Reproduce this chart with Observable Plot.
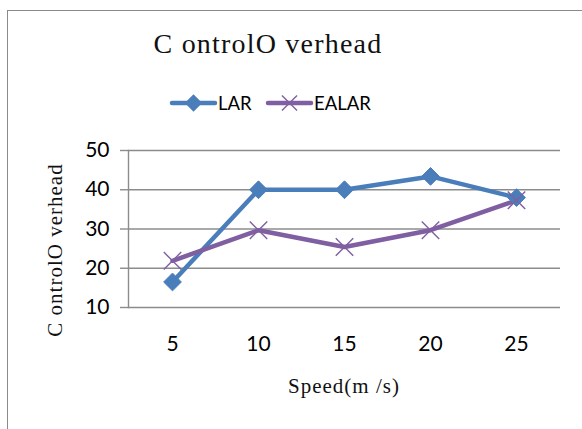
<!DOCTYPE html>
<html><head><meta charset="utf-8">
<script src="https://cdn.jsdelivr.net/npm/d3@7"></script>
<script src="https://cdn.jsdelivr.net/npm/@observablehq/plot@0.6"></script>
<style>
body{margin:0;background:#fff;}
#wrap{position:relative;width:582px;height:429px;overflow:hidden;background:#fff;}
#border{position:absolute;left:7px;top:10px;width:600px;height:450px;border:1.5px solid #8a8a8a;box-sizing:border-box;}
#chart{position:absolute;left:0;top:0;}
.t{position:absolute;white-space:nowrap;color:#000;}
#title{left:0;width:536px;text-align:center;top:28px;font:28px "Liberation Serif";letter-spacing:1.2px;color:#111;}
#xlab{left:0;width:688px;text-align:center;top:374px;font:21px "Liberation Serif";letter-spacing:1px;color:#111;}
#ylab{left:55px;top:250px;font:21px "Liberation Serif";letter-spacing:1px;color:#111;transform:translate(-50%,-50%) rotate(-90deg);}
#legend{position:absolute;left:0;top:89px;}
</style></head>
<body><div id="wrap"><div id="border"></div><div id="chart"></div>
<div class="t" id="title">C ontrolO verhead</div>
<div class="t" id="xlab">Speed(m /s)</div>
<div class="t" id="ylab">C ontrolO verhead</div>
<svg id="legend" width="582" height="30"></svg>
</div>
<script>
const speeds = [5, 10, 15, 20, 25];
const lar = [16.5, 40, 40, 43.4, 38];
const ealar = [21.9, 29.7, 25.4, 29.7, 37.3];
const yTicks = [10, 20, 30, 40, 50];
const seriesNames = ["LAR", "EALAR"];
const colors = ["#4a7ebb", "#7f5fa1"];

const larData = speeds.map((s, i) => ({speed: s, value: lar[i]}));
const ealarData = speeds.map((s, i) => ({speed: s, value: ealar[i]}));

const grid = "#8c8c8c";
const chart = Plot.plot({
  width: 582, height: 429,
  marginTop: 150, marginBottom: 122, marginLeft: 128, marginRight: 22,
  style: {fontFamily: "Lato", fontSize: "21px", color: "#000", background: "transparent"},
  x: {type: "point", domain: speeds, padding: 0.5},
  y: {domain: [10, 50]},
  marks: [
    Plot.gridY(yTicks, {stroke: grid, strokeOpacity: 1, strokeWidth: 1.4}),
    Plot.axisY(yTicks, {tickSize: 8, tickPadding: 11, stroke: grid, strokeWidth: 1.4, label: null, fill: "#000"}),
    Plot.axisX(speeds, {tickSize: 0, tickPadding: 29, label: null, fill: "#000"}),
    Plot.frame({anchor: "left", stroke: grid, strokeWidth: 1.4}),
    Plot.line(larData, {x: "speed", y: "value", stroke: colors[0], strokeWidth: 4.5}),
    Plot.line(ealarData, {x: "speed", y: "value", stroke: colors[1], strokeWidth: 4.5}),
    Plot.dot(larData, {x: "speed", y: "value", symbol: "diamond2", r: 8, fill: colors[0], stroke: colors[0], strokeWidth: 1}),
    Plot.dot(ealarData, {x: "speed", y: "value", symbol: "times", r: 8, stroke: colors[1], strokeWidth: 1.4})
  ]
});
document.getElementById("chart").appendChild(chart);

// legend
const leg = d3.select("#legend");
const items = [
  {name: seriesNames[0], color: colors[0], x0: 172, sym: d3.symbolDiamond2, fill: true},
  {name: seriesNames[1], color: colors[1], x0: 268, sym: d3.symbolTimes, fill: false}
];
const cy = 14;
for (const it of items) {
  leg.append("line").attr("x1", it.x0).attr("x2", it.x0 + 43).attr("y1", cy).attr("y2", cy)
    .attr("stroke", it.color).attr("stroke-width", 4.5).attr("stroke-linecap", "round");
  leg.append("path").attr("d", d3.symbol(it.sym, 150)())
    .attr("transform", `translate(${it.x0 + 21.5},${cy})`)
    .attr("fill", it.fill ? it.color : "none").attr("stroke", it.color).attr("stroke-width", 1.4);
  leg.append("text").attr("x", it.x0 + 46).attr("y", cy).attr("dy", "0.36em")
    .attr("font-family", "Lato").attr("font-size", 18.5).attr("fill", "#000").text(it.name);
}
</script>
</body></html>
